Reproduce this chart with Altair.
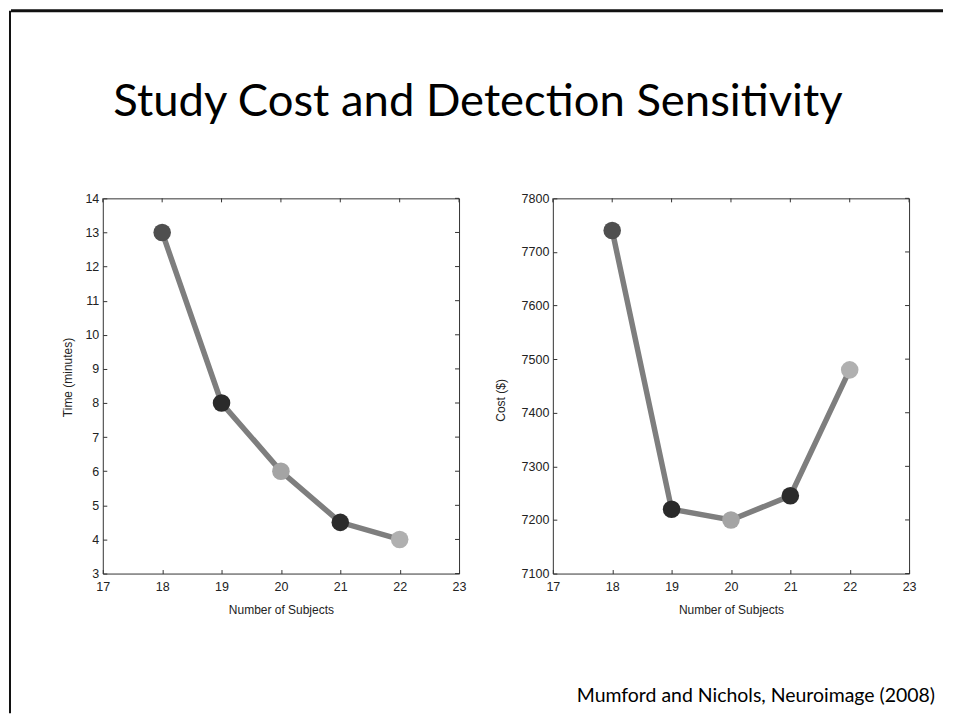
import altair as alt
import pandas as pd

subjects = [18, 19, 20, 21, 22]
times = [13, 8, 6, 4.5, 4]
costs = [7740, 7220, 7200, 7245, 7480]
shades = ["#4f4f4f", "#2a2a2a", "#a4a4a4", "#2c2c2c", "#b0b0b0"]

x_ticks = [17, 18, 19, 20, 21, 22, 23]
time_ticks = list(range(3, 15))
cost_ticks = list(range(7100, 7801, 100))

title_text = "Study Cost and Detection Sensitivity"
source_text = "Mumford and Nichols, Neuroimage (2008)"

df = pd.DataFrame({"n": subjects, "time": times, "cost": costs, "shade": shades})
one = pd.DataFrame({"k": [0]})

W, H = 357, 376
AX_FONT = "Liberation Sans"
TICK = {"expr": "-4"}
TICK_COLOR = "#333"
LABEL_SIZE = 12.5
TITLE_SIZE = 12


def panel(field, ticks, dom, ytitle, ytitle_x, ytitle_y, extra=None):
    xs = alt.Scale(domain=[17, 23], nice=False, zero=False)
    ys = alt.Scale(domain=dom, nice=False, zero=False)
    xa = alt.Axis(values=x_ticks, title="Number of Subjects", domain=False, format="d",
                  tickSize=TICK, tickColor=TICK_COLOR, labelPadding=11,
                  labelOverlap=False, labelFlush=False,
                  labelFont=AX_FONT, labelFontSize=LABEL_SIZE, labelColor="#222",
                  titleFont=AX_FONT, titleFontSize=TITLE_SIZE, titleFontWeight="normal",
                  titleColor="#222", titleY=36, titleBaseline="middle", grid=False)
    ya = alt.Axis(values=ticks, title=ytitle, domain=False, format="d",
                  tickSize=TICK, tickColor=TICK_COLOR, labelPadding=8,
                  labelOverlap=False, labelFlush=False,
                  labelFont=AX_FONT, labelFontSize=LABEL_SIZE, labelColor="#222",
                  titleFont=AX_FONT, titleFontSize=TITLE_SIZE, titleFontWeight="normal",
                  titleColor="#222", titleX=ytitle_x, titleY=ytitle_y,
                  titleBaseline="middle", titleAlign="center", titleAngle=-90, grid=False)
    base = alt.Chart(df).encode(
        x=alt.X("n:Q", scale=xs, axis=xa),
        y=alt.Y(f"{field}:Q", scale=ys, axis=ya),
    )
    line = base.mark_line(color="#7e7e7e", strokeWidth=5.5)
    pts = base.mark_circle(size=310, opacity=1).encode(
        color=alt.Color("shade:N", scale=None))
    top_ticks = alt.Chart(pd.DataFrame({"n": x_ticks})).mark_rule(
        color=TICK_COLOR, strokeWidth=1).encode(
        x=alt.X("n:Q", scale=xs, axis=xa), y=alt.value(0), y2=alt.value(4))
    right_ticks = alt.Chart(pd.DataFrame({field: ticks})).mark_rule(
        color=TICK_COLOR, strokeWidth=1).encode(
        y=alt.Y(f"{field}:Q", scale=ys, axis=ya), x=alt.value(W), x2=alt.value(W - 4))
    layers = [line, pts, top_ticks, right_ticks]
    if extra:
        layers += extra
    return alt.layer(*layers).properties(width=W, height=H)


deco = [
    alt.Chart(one).mark_rule(color="#111", strokeWidth=2).encode(
        x=alt.value(-93), y=alt.value(-188), y2=alt.value(516)),
    alt.Chart(one).mark_rule(color="#111", strokeWidth=3).encode(
        x=alt.value(-92), x2=alt.value(842), y=alt.value(-188)),
    alt.Chart(one).mark_text(text=title_text, font="Lato", fontSize=45.5, color="#000",
                             align="center", baseline="alphabetic").encode(
        x=alt.value(376), y=alt.value(-83)),
    alt.Chart(one).mark_text(text=source_text, font="Lato", fontSize=19.5, color="#000",
                             align="right", baseline="alphabetic").encode(
        x=alt.value(834), y=alt.value(505)),
]

left = panel("time", time_ticks, [3, 14], "Time (minutes)", -35, 179, deco)
right = panel("cost", cost_ticks, [7100, 7800], "Cost ($)", -52, 202)

chart = alt.hconcat(left, right, spacing=94, bounds="flush").properties(
    padding={"left": 0, "top": 0, "right": 0, "bottom": 0}
).configure(background="white").configure_view(stroke="#333", strokeWidth=1)

chart.save("out.html", embed_options={"renderer": "svg", "actions": False})
